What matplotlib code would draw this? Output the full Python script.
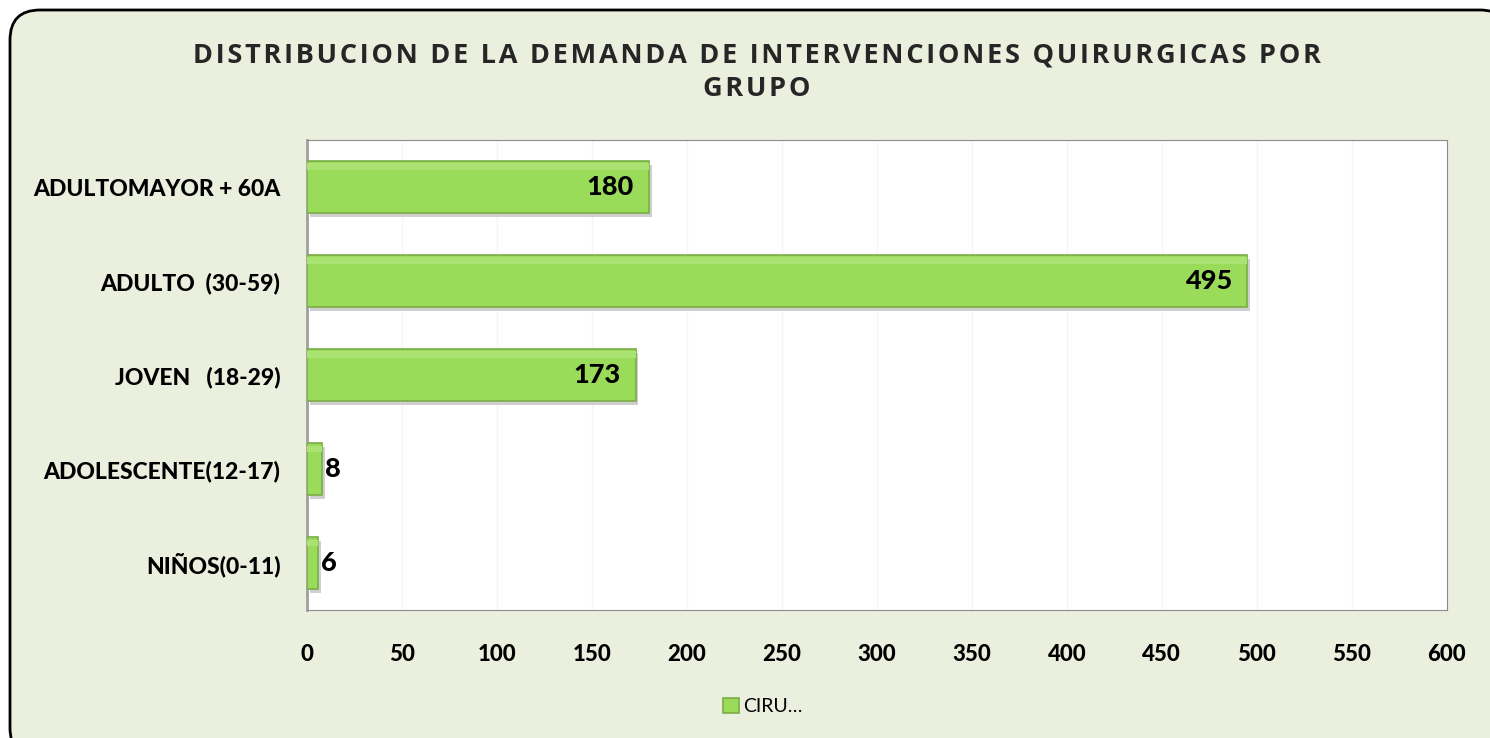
import matplotlib.pyplot as plt
from matplotlib.patches import FancyBboxPatch

# datos
grupos = ['NIÑOS(0-11)', 'ADOLESCENTE(12-17)', 'JOVEN   (18-29)', 'ADULTO  (30-59)', 'ADULTOMAYOR + 60A']
valores = [6, 8, 173, 495, 180]
serie = 'CIRU…'
ticks_x = list(range(0, 601, 50))
titulo = 'DISTRIBUCION DE LA DEMANDA DE INTERVENCIONES QUIRURGICAS POR\nGRUPO'

plt.rcParams['font.family'] = ['Lato', 'DejaVu Sans']

fig = plt.figure(figsize=(14.9, 7.38), dpi=100)
fig.patch.set_facecolor('white')

# marco redondeado de fondo
marco = FancyBboxPatch((10, -20), 1500, 748, boxstyle='round,pad=0,rounding_size=30',
                       transform=None, facecolor='#EBEFDE', edgecolor='black', linewidth=2, zorder=-5)
fig.patches.append(marco)

ax = fig.add_axes([0.206, 0.173, 0.765, 0.637])
ax.set_facecolor('white')

y = range(len(grupos))
alto = 0.55
# sombra
ax.barh([i - 0.04 for i in y], valores, height=alto, left=1.5, color='#CFCFCF', zorder=2)
barras = ax.barh(y, valores, height=alto, color='#9BDB5A', edgecolor='#7AAE45', linewidth=1.2, zorder=3)
# brillo superior
ax.barh([i + alto * 0.40 for i in y], valores, height=alto * 0.12, color='#ABE373', linewidth=0, zorder=4)

for i, v in enumerate(valores):
    if v > 50:
        ax.text(v - 8, i, str(v), ha='right', va='center', fontsize=19.5, fontweight='black', zorder=5)
    else:
        ax.text(v + 1.5, i, str(v), ha='left', va='center', fontsize=19.5, fontweight='black', zorder=5)

ax.set_xlim(0, 600)
ax.set_ylim(-0.5, len(grupos) - 0.5)
ax.set_xticks(ticks_x)
ax.set_xticklabels([str(t) for t in ticks_x], fontsize=16, fontweight='black')
ax.set_yticks(list(y))
ax.set_yticklabels(grupos, fontsize=16.5, fontweight='black')
ax.tick_params(axis='y', length=0, pad=19)
ax.tick_params(axis='x', length=0, pad=24)
ax.grid(axis='x', color='#F5F5F5', linewidth=1, zorder=0)
for s in ['top', 'right', 'bottom']:
    ax.spines[s].set_color('#8C8C8C')
ax.spines['left'].set_color('#A0A0A0')
ax.spines['left'].set_linewidth(2)

# titulo con espaciado entre letras
titulo_esp = '\n'.join('\u200a'.join(linea) for linea in titulo.split('\n'))
fig.text(0.508, 0.902, titulo_esp, ha='center', va='center', fontsize=19.5, fontweight='bold',
         color='#262626', linespacing=1.4, family=['Open Sans', 'DejaVu Sans'])

leg = fig.legend([barras], [serie], loc='center', bbox_to_anchor=(0.512, 0.043), frameon=False,
                 fontsize=14, handlelength=0.8, handleheight=0.8, handletextpad=0.2)

fig.savefig('out.png', dpi=100, facecolor=fig.get_facecolor())
